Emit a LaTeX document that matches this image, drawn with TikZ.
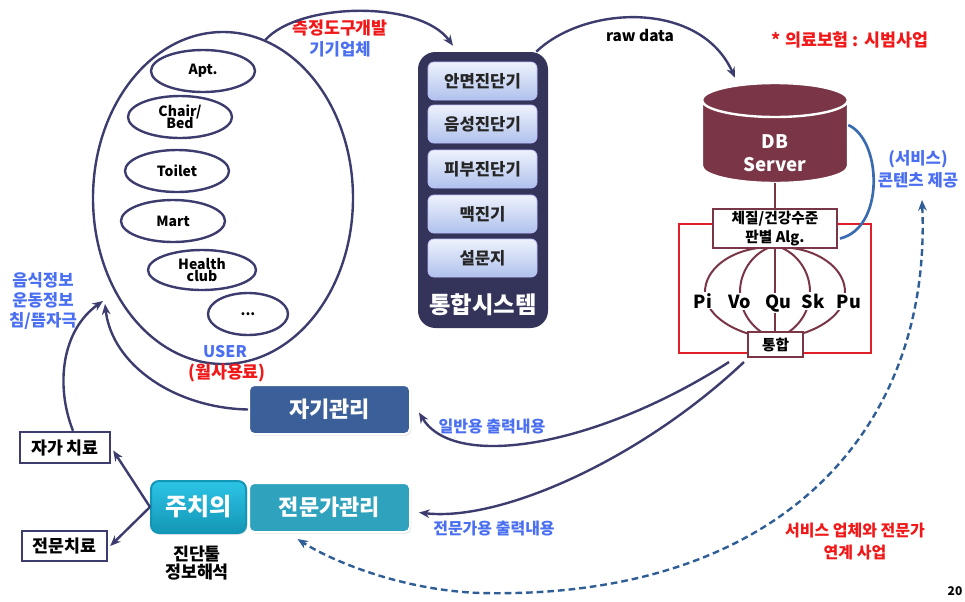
\documentclass[tikz,border=0pt]{standalone}
\usepackage{fontspec}
\setmainfont{Noto Sans CJK KR}
\usetikzlibrary{arrows.meta,shapes.geometric,shadows,calc}
\definecolor{navy}{HTML}{3C3C6E}
\definecolor{tblue}{HTML}{4A6FF0}
\definecolor{tred}{HTML}{F01818}
\definecolor{maroon}{HTML}{7A3646}
\definecolor{sysbg}{HTML}{34345A}
\definecolor{btop}{HTML}{EEF2FC}
\definecolor{bbot}{HTML}{AFC1EC}
\definecolor{selfc}{HTML}{3B5F99}
\definecolor{expc}{HTML}{2FA2BD}
\definecolor{jutop}{HTML}{2CC4E6}
\definecolor{jubot}{HTML}{1496B6}
\definecolor{dashc}{HTML}{2F5E96}
\definecolor{rrect}{HTML}{E02028}
\definecolor{bluecurve}{HTML}{3A6BB0}
\begin{document}
\begin{tikzpicture}[x=0.75pt,y=-0.75pt,
  >={Stealth[length=8pt,width=6.5pt]},
  place/.style={ellipse, draw=navy, line width=1.8pt, minimum width=78pt, minimum height=31.5pt, inner sep=0pt, font=\fontsize{10.5}{11}\selectfont\bfseries, align=center},
  btn/.style={rounded corners=4.5pt, top color=btop, bottom color=bbot, draw=white!75!blue, line width=0.6pt, minimum width=81.75pt, minimum height=28.5pt, inner sep=0pt, font=\fontsize{12.5}{13}\selectfont\bfseries, text=black!85},
  mainbox/.style={rounded corners=4pt, draw=white, line width=1.5pt, text=white, inner sep=0pt, font=\fontsize{16.5}{17}\selectfont\bfseries, drop shadow={opacity=0.25,shadow xshift=1pt,shadow yshift=-1.2pt}},
  whitebox/.style={draw=navy, line width=1.8pt, fill=white, inner sep=0pt, font=\fontsize{13}{14}\selectfont\bfseries},
  algbox/.style={draw=maroon, line width=1.5pt, fill=white, inner sep=0pt, align=center, font=\fontsize{11}{14.5}\selectfont\bfseries},
  arr/.style={navy, line width=1.8pt, ->},
  lbl/.style={font=\fontsize{12}{14}\selectfont\bfseries, align=center, inner sep=0pt},
  mer/.style={maroon, line width=1.5pt},
  merlbl/.style={font=\fontsize{13.5}{14}\selectfont\bfseries, fill=white, inner sep=1pt, anchor=base}
]
\useasboundingbox (0,0) rectangle (965,601);

% USER ellipse
\node[ellipse, draw=navy, line width=1.8pt, minimum width=195pt, minimum height=249pt, inner sep=0pt] (user) at (223,198) {};
\node[place] (e1) at (203,71) {Apt.};
\node[place] (e2) at (180,117) {Chair/\\[-2pt]Bed};
\node[place] (e3) at (177,171) {Toilet};
\node[place] (e4) at (173,221) {Mart};
\node[place, minimum width=81pt, minimum height=30pt] (e5) at (202,270) {Health\\[-2pt]club};
\node[place, minimum width=60pt] (e6) at (248,314) {...};
\node[lbl, text=tblue] (usr) at (225,352) {USER};
\node[lbl, text=tred, font=\fontsize{13}{14}\selectfont\bfseries] (fee) at (227,373) {(월사용료)};

% integrated system
\node[rounded corners=13pt, fill=sysbg, minimum width=97.5pt, minimum height=207pt, inner sep=0pt] (sys) at (483,190) {};
\node[btn] (b1) at (482.5,81) {안면진단기};
\node[btn] (b2) at (482.5,124) {음성진단기};
\node[btn] (b3) at (482.5,169) {피부진단기};
\node[btn] (b4) at (482.5,214) {맥진기};
\node[btn] (b5) at (482.5,258) {설문지};
\node[text=white, font=\fontsize{17.5}{18}\selectfont\bfseries, inner sep=0pt] (systitle) at (483,305) {통합시스템};

\node[lbl, text=tred, font=\fontsize{13}{14}\selectfont\bfseries] (measure) at (340,28) {측정도구개발};
\node[lbl, text=tblue, font=\fontsize{12.5}{14}\selectfont\bfseries] (vendor) at (340,49) {기기업체};
\draw[arr] (user.75) .. controls (300,2) and (420,0) .. ($(sys.north)+(-30,-6)$);

% DB server
\node[minimum width=109.5pt, minimum height=75pt, inner sep=0pt] (db) at (775,133) {};
\draw[fill=maroon, draw=white, line width=1.8pt] (702,100) -- (702,166) arc[start angle=180, end angle=0, x radius=73, y radius=17] -- (848,100) arc[start angle=0, end angle=-180, x radius=73, y radius=17] -- cycle;
\draw[fill=maroon, draw=white, line width=1.8pt] (775,100) ellipse [x radius=73, y radius=17];
\node[text=white, align=center, font=\fontsize{14}{17}\selectfont\bfseries, inner sep=0pt] (dbtext) at (775,153) {DB\\Server};

\node[font=\fontsize{11.5}{12}\selectfont\bfseries, inner sep=0pt] (raw) at (640,35) {raw data};
\draw[arr] ($(sys.north east)+(-12,0)$) .. controls (585,5) and (700,0) .. ($(db.north)+(-40,-5)$);

\node[lbl, text=tred, font=\fontsize{13}{14}\selectfont\bfseries] (insur) at (850,40) {* 의료보험 : 시범사업};

% red rectangle and algorithm
\draw[rrect, line width=1.8pt] (679,224) rectangle (871,353);
\draw[mer] (758,248) .. controls (728,252) and (705,270) .. (705,292) .. controls (705,314) and (730,330) .. (757,336);
\draw[mer] (792,248) .. controls (822,252) and (845,270) .. (845,292) .. controls (845,314) and (820,330) .. (793,336);
\draw[mer] (768,248) .. controls (752,255) and (740,272) .. (740,292) .. controls (740,312) and (752,328) .. (768,336);
\draw[mer] (782,248) .. controls (798,255) and (810,272) .. (810,292) .. controls (810,312) and (798,328) .. (782,336);
\draw[mer] (775,246) -- (775,338);
\draw[maroon, line width=1.5pt] (db.south) -- (775,209);
\node[algbox, minimum width=93pt, minimum height=29.25pt] (alg) at (775,228.5) {체질/건강수준\\판별 Alg.};
\node[algbox, minimum width=41.25pt, minimum height=18.75pt] (th) at (775.5,344.5) {통합};
\node[merlbl] (pi) at (703,308) {Pi};
\node[merlbl] (vo) at (740,308) {Vo};
\node[merlbl] (qu) at (778,308) {Qu};
\node[merlbl] (sk) at (813,308) {Sk};
\node[merlbl] (pu) at (849,308) {Pu};

\draw[bluecurve, line width=2pt] (db.east |- 0,125) .. controls (882,140) and (885,228) .. ($(alg.east)+(2,10)$);
\node[lbl, text=tblue, font=\fontsize{12.5}{16.5}\selectfont\bfseries] (svc) at (918,169) {(서비스)\\콘텐츠 제공};

% management boxes
\node[mainbox, fill=selfc, minimum width=120.75pt, minimum height=36.75pt] (self) at (329.5,409.5) {자기관리};
\node[mainbox, fill=expc, minimum width=120.75pt, minimum height=36.75pt] (expert) at (329.5,507.5) {전문가관리};
\node[mainbox, top color=jutop, bottom color=jubot, draw=jubot, minimum width=71.25pt, minimum height=39pt, rounded corners=6pt, font=\fontsize{18}{19}\selectfont\bfseries] (juchi) at (198.5,507) {주치의};
\node[whitebox, minimum width=67.5pt, minimum height=23.25pt] (jaga) at (65,447.5) {자가 치료};
\node[whitebox, minimum width=63.75pt, minimum height=22.5pt] (jeonmun) at (64.5,546) {전문치료};
\node[lbl, font=\fontsize{13}{14}\selectfont\bfseries] (tool) at (197,563) {진단툴\\정보해석};

\draw[arr] (juchi.west) -- ($(jaga.east)+(2,3)$);
\draw[arr] (juchi.west) -- ($(jeonmun.east)+(2,0)$);
\draw[arr] ($(jaga.north)+(8,0)$) .. controls (55,385) and (62,330) .. (103,301);
\draw[arr] (self.west) .. controls (175,408) and (112,365) .. (105,304);

\node[lbl, font=\fontsize{12.5}{15}\selectfont\bfseries, text=tblue] (food) at (43,301) {음식정보\\운동정보\\침/뜸자극};

% output arrows
\draw[arr] ($(th.south west)+(-18,4)$) .. controls (600,445) and (455,472) .. ($(self.east)+(8,3)$);
\draw[arr] ($(th.south west)+(-3,4)$) .. controls (640,460) and (500,522) .. ($(expert.east)+(8,5)$);
\node[lbl, text=tblue] (gen) at (492,427) {일반용 출력내용};
\node[lbl, text=tblue] (pro) at (494,528) {전문가용 출력내용};

% dashed link
\coordinate (dtop) at (922,200);
\draw[dashc, line width=1.8pt, dash pattern=on 5pt off 3pt, <->] (dtop) .. controls (932,430) and (780,600) .. (480,593) .. controls (400,590) and (330,560) .. ($(expert.south)+(-32,6)$);
\node[lbl, text=tred, font=\fontsize{12}{16.5}\selectfont\bfseries] (link) at (855,541) {서비스 업체와 전문가\\연계 사업};

\node[font=\fontsize{9}{10}\selectfont\bfseries, inner sep=0pt] (pg) at (955,591) {20};
\end{tikzpicture}
\end{document}
